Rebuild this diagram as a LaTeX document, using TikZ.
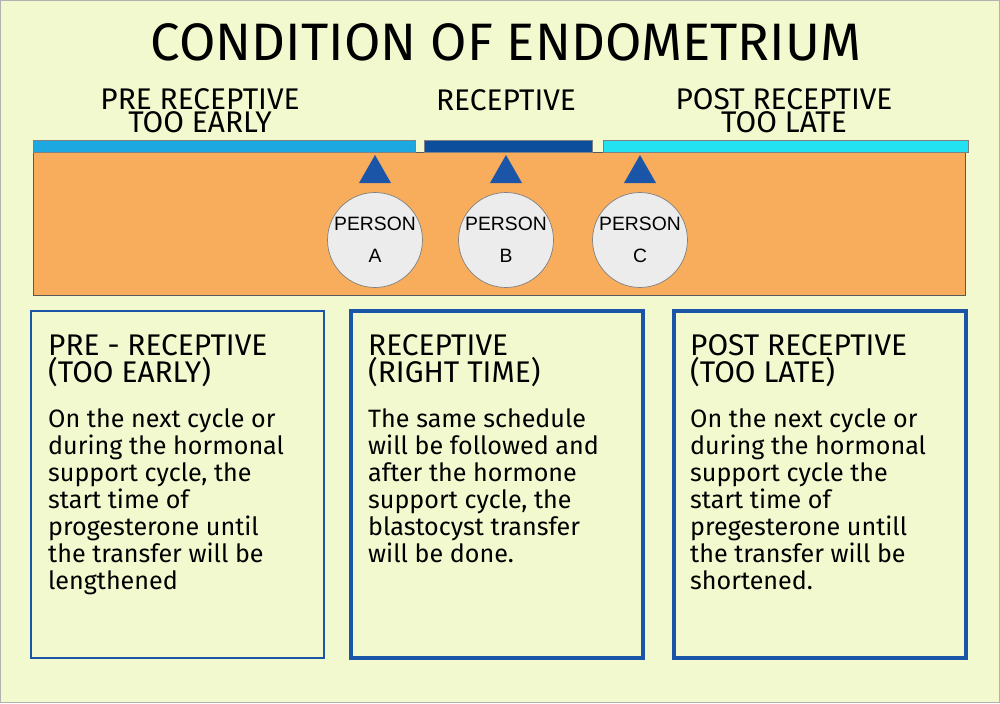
\documentclass[tikz,border=0pt]{standalone}
\usepackage{fontspec}
\setmainfont{Liberation Sans}
\newfontfamily\headfont{Fira Sans}
\definecolor{bgyellow}{HTML}{F3F9CF}
\definecolor{barlight}{HTML}{1EA8E2}
\definecolor{bardark}{HTML}{0D4E9C}
\definecolor{barcyan}{HTML}{22E2F2}
\definecolor{orangeband}{HTML}{F8AD5C}
\definecolor{boxblue}{HTML}{1A55A8}
\begin{document}
\begin{tikzpicture}[x=0.02cm,y=-0.02cm,
    heading/.style={font=\headfont\fontsize{17}{13.3}\selectfont, align=center},
    person/.style={circle, draw=gray, fill=gray!15, minimum size=1.9cm, inner sep=0pt, align=center, font=\fontsize{11}{18}\selectfont},
    pointer/.style={fill=boxblue},
    infobox/.style={draw=boxblue, line width=1.4pt},
    boxhead/.style={anchor=north west, font=\headfont\fontsize{17}{13.8}\selectfont, align=left},
    boxtext/.style={anchor=north west, font=\headfont\fontsize{14.3}{15.4}\selectfont, align=left}]
    \fill[bgyellow] (0,0) rectangle (1000,703);
    \draw[gray!60] (0.5,0.5) rectangle (999.5,702.5);
    \node[font=\headfont\fontsize{30}{30}\selectfont] (title) at (506,42) {CONDITION OF ENDOMETRIUM};
    % phase labels
    \node[heading] (pre) at (200,111) {PRE RECEPTIVE\\TOO EARLY};
    \node[heading] (rec) at (506,100) {RECEPTIVE};
    \node[heading] (post) at (784,111) {POST RECEPTIVE\\TOO LATE};
    % band and bars
    \draw[gray!70!black, fill=orangeband] (33,152) rectangle (965,295);
    \draw[fill=barlight, draw=gray] (33,140) rectangle (415,152);
    \draw[fill=bardark, draw=gray] (424,140) rectangle (592,152);
    \draw[fill=barcyan, draw=gray] (603,140) rectangle (968,152);
    % persons
    \foreach \x/\p in {375/A, 506/B, 640/C} {
        \fill[pointer] (\x,155) -- (\x+16,183) -- (\x-16,183) -- cycle;
        \node[person] (person\p) at (\x,240) {PERSON\\\p};
    }
    % boxes
    \draw[infobox, line width=1.2pt] (31,311) rectangle (324,658);
    \draw[infobox, line width=2pt] (351,311) rectangle (643,658);
    \draw[infobox, line width=2pt] (674,311) rectangle (966,658);
    \node[boxhead] (h1) at (42,328) {PRE - RECEPTIVE\\(TOO EARLY)};
    \node[boxhead] (h2) at (362,328) {RECEPTIVE\\(RIGHT TIME)};
    \node[boxhead] (h3) at (684,328) {POST RECEPTIVE\\(TOO LATE)};
    \node[boxtext] (t1) at (42,402) {On the next cycle or\\during the hormonal\\support cycle, the\\start time of\\progesterone until\\the transfer will be\\lengthened};
    \node[boxtext] (t2) at (362,402) {The same schedule\\will be followed and\\after the hormone\\support cycle, the\\blastocyst transfer\\will be done.};
    \node[boxtext] (t3) at (684,402) {On the next cycle or\\during the hormonal\\support cycle the\\start time of\\pregesterone untill\\the transfer will be\\shortened.};
\end{tikzpicture}
\end{document}
